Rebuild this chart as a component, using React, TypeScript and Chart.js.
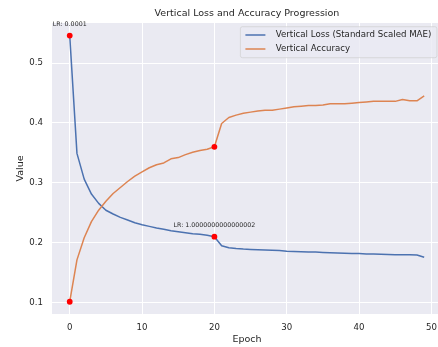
import React, { useEffect, useRef } from "react";
import { Chart, registerables } from "chart.js";

Chart.register(...registerables);

const chartTitle = "Vertical Loss and Accuracy Progression";
const xAxisTitle = "Epoch";
const yAxisTitle = "Value";
const seriesLabels = ["Vertical Loss (Standard Scaled MAE)", "Vertical Accuracy"];

const epochs = [
  0, 1, 2, 3, 4, 5, 6, 7, 8, 9,
  10, 11, 12, 13, 14, 15, 16, 17, 18, 19,
  20, 21, 22, 23, 24, 25, 26, 27, 28, 29,
  30, 31, 32, 33, 34, 35, 36, 37, 38, 39,
  40, 41, 42, 43, 44, 45, 46, 47, 48, 49,
];

const lossValues = [
  0.546, 0.349, 0.306, 0.281, 0.2655, 0.254, 0.2477, 0.242, 0.2377, 0.233,
  0.2298, 0.227, 0.2243, 0.222, 0.2198, 0.218, 0.2164, 0.2147, 0.2137, 0.212,
  0.2097, 0.1947, 0.1913, 0.19, 0.189, 0.1885, 0.188, 0.1875, 0.187, 0.1865,
  0.1853, 0.185, 0.1845, 0.184, 0.184, 0.1835, 0.183, 0.1825, 0.182, 0.1815,
  0.1815, 0.181, 0.181, 0.1805, 0.18, 0.1795, 0.1795, 0.1795, 0.179, 0.1753,
];

const accuracyValues = [
  0.101, 0.171, 0.208, 0.235, 0.254, 0.269, 0.282, 0.292, 0.302, 0.311,
  0.318, 0.325, 0.33, 0.333, 0.34, 0.342, 0.347, 0.351, 0.354, 0.356,
  0.36, 0.399, 0.409, 0.413, 0.416, 0.418, 0.42, 0.421, 0.421, 0.423,
  0.425, 0.427, 0.428, 0.429, 0.429, 0.43, 0.432, 0.432, 0.432, 0.433,
  0.434, 0.435, 0.436, 0.436, 0.436, 0.436, 0.439, 0.437, 0.437, 0.445,
];

const lrChangeEpochs = [0, 20];
const lrLabels = ["LR: 0.0001", "LR: 1.0000000000000002"];

const xTicks = [0, 10, 20, 30, 40, 50];
const yTicks = [0.1, 0.2, 0.3, 0.4, 0.5];

const FONT = "'DejaVu Sans', sans-serif";
const TEXT = "#262626";
const LOSS_COLOR = "#4C72B0";
const ACC_COLOR = "#DD8452";

const backgroundPlugin = {
  id: "bg",
  beforeDraw(chart: any) {
    const { ctx, chartArea: ca } = chart;
    ctx.save();
    ctx.fillStyle = "#ffffff";
    ctx.fillRect(0, 0, chart.width, chart.height);
    ctx.fillStyle = "#EAEAF2";
    ctx.fillRect(ca.left, ca.top, ca.right - ca.left, ca.bottom - ca.top);
    ctx.restore();
  },
};

const annotationPlugin = {
  id: "lrNotes",
  afterDatasetsDraw(chart: any) {
    const { ctx } = chart;
    const xs = chart.scales.x;
    const ys = chart.scales.y;
    ctx.save();
    ctx.fillStyle = TEXT;
    ctx.font = `6.3px ${FONT}`;
    ctx.textAlign = "center";
    ctx.textBaseline = "middle";
    lrChangeEpochs.forEach((ep, i) => {
      const idx = epochs.indexOf(ep);
      const px = xs.getPixelForValue(ep);
      const py = ys.getPixelForValue(lossValues[idx]);
      ctx.fillText(lrLabels[i], px, py - 11.5);
    });
    ctx.restore();
  },
};

const legendPlugin = {
  id: "mplLegend",
  afterDraw(chart: any) {
    const { ctx, chartArea: ca } = chart;
    const fontSize = 8.65;
    ctx.save();
    ctx.font = `${fontSize}px ${FONT}`;
    const datasets = chart.data.datasets.slice(0, 2);
    let maxW = 0;
    datasets.forEach((d: any) => {
      maxW = Math.max(maxW, ctx.measureText(d.label).width);
    });
    const padL = 5;
    const padR = 5.6;
    const handleLen = 20;
    const gap = 10.3;
    const right = ca.right - 5;
    const top = ca.top + 3.7;
    const width = padL + handleLen + gap + maxW + padR;
    const left = right - width;
    const height = 31;
    const r = 2;
    ctx.beginPath();
    ctx.moveTo(left + r, top);
    ctx.lineTo(right - r, top);
    ctx.quadraticCurveTo(right, top, right, top + r);
    ctx.lineTo(right, top + height - r);
    ctx.quadraticCurveTo(right, top + height, right - r, top + height);
    ctx.lineTo(left + r, top + height);
    ctx.quadraticCurveTo(left, top + height, left, top + height - r);
    ctx.lineTo(left, top + r);
    ctx.quadraticCurveTo(left, top, left + r, top);
    ctx.closePath();
    ctx.fillStyle = "rgba(234,234,242,0.8)";
    ctx.fill();
    ctx.strokeStyle = "rgba(204,204,204,0.8)";
    ctx.lineWidth = 0.8;
    ctx.stroke();
    const rows = [top + 8.3, top + 22.3];
    datasets.forEach((d: any, i: number) => {
      ctx.beginPath();
      ctx.strokeStyle = d.borderColor;
      ctx.lineWidth = 1.5;
      ctx.moveTo(left + padL, rows[i]);
      ctx.lineTo(left + padL + handleLen, rows[i]);
      ctx.stroke();
      ctx.fillStyle = TEXT;
      ctx.textAlign = "left";
      ctx.textBaseline = "middle";
      ctx.fillText(d.label, left + padL + handleLen + gap, rows[i]);
    });
    ctx.restore();
  },
};

export default function App() {
  const canvasRef = useRef<HTMLCanvasElement | null>(null);

  useEffect(() => {
    const canvas = canvasRef.current;
    if (!canvas) return;

    const lossData = epochs.map((e, i) => ({ x: e, y: lossValues[i] }));
    const accData = epochs.map((e, i) => ({ x: e, y: accuracyValues[i] }));
    const markerData: { x: number; y: number }[] = [];
    lrChangeEpochs.forEach((ep) => {
      const idx = epochs.indexOf(ep);
      markerData.push({ x: ep, y: lossValues[idx] });
      markerData.push({ x: ep, y: accuracyValues[idx] });
    });

    const tickFont = { family: FONT, size: 8.6 };
    const labelFont = { family: FONT, size: 9.5 };

    const chart = new Chart(canvas, {
      type: "line",
      data: {
        datasets: [
          {
            label: seriesLabels[0],
            data: lossData,
            borderColor: LOSS_COLOR,
            backgroundColor: LOSS_COLOR,
            borderWidth: 1.5,
            pointRadius: 0,
            tension: 0,
            borderJoinStyle: "round",
            order: 2,
          },
          {
            label: seriesLabels[1],
            data: accData,
            borderColor: ACC_COLOR,
            backgroundColor: ACC_COLOR,
            borderWidth: 1.5,
            pointRadius: 0,
            tension: 0,
            borderJoinStyle: "round",
            order: 1,
          },
          {
            type: "scatter",
            label: "LR change",
            data: markerData,
            backgroundColor: "#FF0000",
            borderColor: "#FF0000",
            borderWidth: 0,
            pointRadius: 2.9,
            showLine: false,
            order: 0,
          } as any,
        ],
      },
      options: {
        animation: false,
        responsive: false,
        devicePixelRatio: 1,
        layout: { padding: { left: 0, right: 1.4, top: 0, bottom: 0 } },
        plugins: {
          legend: { display: false },
          tooltip: { enabled: false },
          title: {
            display: true,
            text: chartTitle,
            fullSize: false,
            color: TEXT,
            font: { family: FONT, size: 9.5, weight: "normal" as any },
            padding: { top: 8.3, bottom: 3.3 },
          },
        },
        scales: {
          x: {
            type: "linear",
            min: -2.45,
            max: 51.45,
            afterBuildTicks: (s: any) => {
              s.ticks = xTicks.map((v) => ({ value: v }));
            },
            afterFit: (s: any) => {
              s.height = 33;
            },
            grid: { color: "#ffffff", lineWidth: 1, drawTicks: false },
            border: { display: false },
            ticks: {
              color: TEXT,
              font: tickFont,
              padding: 9,
              maxRotation: 0,
              includeBounds: false,
              callback: (v: any) => String(v),
            },
            title: {
              display: true,
              text: xAxisTitle,
              color: TEXT,
              font: labelFont,
              padding: { top: 0, bottom: 1.3 },
            },
          },
          y: {
            type: "linear",
            min: 0.0805,
            max: 0.567,
            afterBuildTicks: (s: any) => {
              s.ticks = yTicks.map((v) => ({ value: v }));
            },
            afterFit: (s: any) => {
              s.width = 52;
            },
            grid: { color: "#ffffff", lineWidth: 1, drawTicks: false },
            border: { display: false },
            ticks: {
              color: TEXT,
              font: tickFont,
              padding: 9,
              includeBounds: false,
              callback: (v: any) => Number(v).toFixed(1),
            },
            title: {
              display: true,
              text: yAxisTitle,
              color: TEXT,
              font: labelFont,
              padding: { top: 14.8, bottom: 0 },
            },
          },
        },
      },
      plugins: [backgroundPlugin, annotationPlugin, legendPlugin],
    } as any);

    return () => {
      chart.destroy();
    };
  }, []);

  return (
    <div
      style={{
        position: "fixed",
        left: 0,
        top: 0,
        width: 438,
        height: 347,
        overflow: "hidden",
        background: "#ffffff",
      }}
    >
      <canvas
        ref={canvasRef}
        width={446}
        height={347}
        style={{ display: "block", width: 446, height: 347 }}
      />
    </div>
  );
}
